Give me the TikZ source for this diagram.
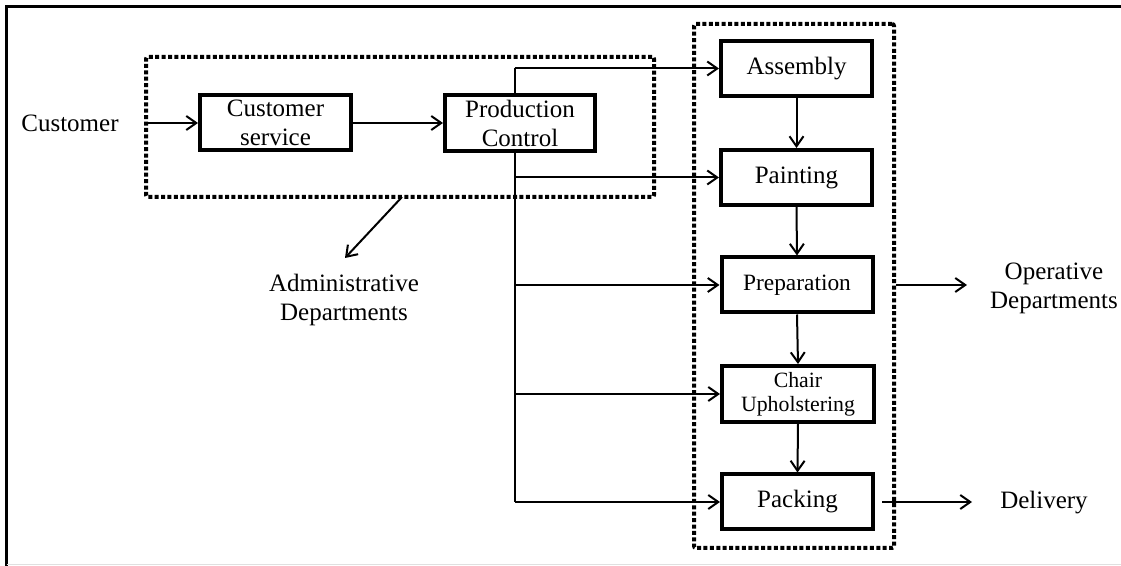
\documentclass[tikz,border=0pt]{standalone}
\usepackage{fontspec}
\setmainfont{Liberation Serif}
\usetikzlibrary{arrows.meta}

\begin{document}
\begin{tikzpicture}[x=0.5pt,y=-0.5pt,
  every node/.style={font=\fontsize{12.5}{14.5}\selectfont},
  procbox/.style={draw, line width=2pt, minimum width=75.5pt, minimum height=27.5pt,
    inner sep=0pt, align=center},
  groupbox/.style={draw, line width=2pt, dash pattern=on 2pt off 1.2pt,
    rounded corners=1pt, inner sep=0pt},
  label/.style={align=center, inner sep=0pt},
  conn/.style={line width=1pt},
  arr/.style={conn, -{Straight Barb[length=5pt,width=7pt,line width=1pt]}},
]
\useasboundingbox (0,0) rectangle (1121,566);

% page frame
\draw[line width=1.2pt] (6.5,566) -- (6.5,6.5) -- (1121,6.5);
\draw[line width=0.5pt, black!12] (6.5,565) -- (1121,565);

% department groups
\node[groupbox, minimum width=254pt, minimum height=70pt] (adm) at (400,127) {};
\node[groupbox, minimum width=100pt, minimum height=262pt] (ops) at (794,286) {};

% administrative boxes
\node[procbox] (cs) at (275.5,123) {Customer\\service};
\node[procbox, minimum width=75pt, minimum height=28pt] (pc) at (520,123) {Production\\Control};

% operative boxes
\node[procbox] (asm) at (796.5,68.5) {Assembly};
\node[procbox] (pnt) at (796.5,177.5) {Painting};
\node[procbox, font=\fontsize{11.7}{14}\selectfont] (prep) at (797,285) {Preparation};
\node[procbox, minimum width=76pt, minimum height=28pt,
      font=\fontsize{10.9}{12}\selectfont] (chair) at (798,394) {Chair\\Upholstering};
\node[procbox] (pack) at (797.5,502) {Packing};

% free labels
\node[label] (cust) at (70,123) {Customer};
\node[label] (admlbl) at (344,300) {Administrative\\Departments};
\node[label] (opslbl) at (1054,288) {Operative\\Departments};
\node[label] (deliv) at (1044,503) {Delivery};

% helper points
\coordinate (busTop) at (514.5,68.5);
\coordinate (busBot) at (514.5,502);
\coordinate (admFrom) at (402,197);
\coordinate (admTo) at (345,258);
\coordinate (opsTo) at (967,285);
\coordinate (delTo) at (972,502);

% customer order flow
\draw[arr] (adm.west |- cs.west) -- (cs.west);
\draw[arr] (cs.east) -- (pc.west);

% production control distribution bus (interrupted by the box it leaves)
\draw[conn] (busTop) -- (busTop |- pc.north);
\draw[conn] (busTop |- pc.south) -- (busBot);
\draw[arr] (busTop) -- (asm.west);
\draw[arr] (busTop |- pnt.west) -- (pnt.west);
\draw[arr] (busTop |- prep.west) -- (prep.west);
\draw[arr] (busTop |- chair.west) -- (chair.west);
\draw[arr] (busBot) -- (pack.west);

% operative sequence
\draw[arr] (asm.south) -- (pnt.north);
\draw[arr] (pnt.south) -- (prep.north);
\draw[arr] (prep.south) -- (chair.north);
\draw[arr] (chair.south) -- (pack.north);

% group pointers
\draw[arr] (admFrom) -- (admTo);
\draw[arr] (ops.east |- prep.east) -- (opsTo);
\draw[arr] ([xshift=3.5pt]pack.east) -- (delTo);
\end{tikzpicture}
\end{document}
